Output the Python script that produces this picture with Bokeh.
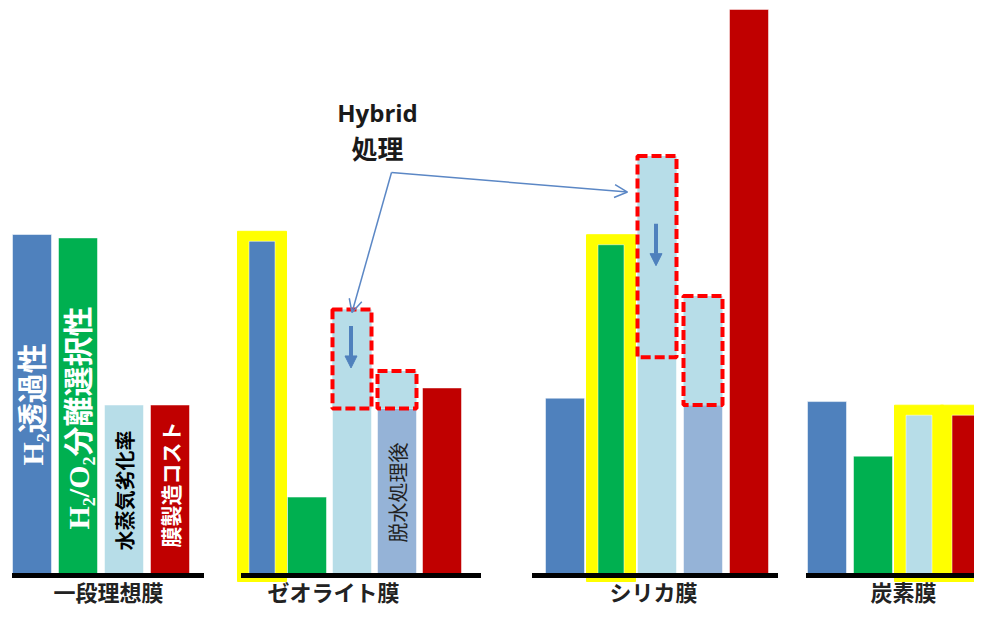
import math
from bokeh.plotting import figure
from bokeh.models import Range1d, Arrow, OpenHead, NormalHead, ColumnDataSource
from bokeh.core.properties import value
from bokeh.embed import file_html
from bokeh.resources import INLINE

# ------------------------------------------------------------------ data
groups = ["一段理想膜", "ゼオライト膜", "シリカ膜", "炭素膜"]
series_keys = ["perm", "sel", "deg", "dehyd", "cost"]
series_names = ["H₂透過性", "H₂/O₂分離選択性", "水蒸気劣化率", "脱水処理後", "膜製造コスト"]
h2_permeability = [100, 98, 52, 51]
h2o2_selectivity = [99, 23, 97, 35]
steam_degradation = [50, 78, 123, 47]
steam_degradation_hybrid = [None, 49, 64, None]
after_dehydration = [None, 49, 50, None]
after_dehydration_box_top = [None, 60, 82, None]
membrane_cost = [50, 55, 166, 47]
highlighted = [("ゼオライト膜", "perm"), ("シリカ膜", "sel"), ("炭素膜", "deg"), ("炭素膜", "cost")]
hybrid_text = ["Hybrid", "処理"]

# ------------------------------------------------------------------ layout / style
PX = 3.41                     # screen pixels per value unit
BASE = 578                    # baseline position (pixels from top)
TOP = 3                       # first visible pixel row
def px(d):
    return d / PX

first_center = [31.5, 261.5, 564.5, 826.5]
pitch = [46, 45, 46, 46]
bar_w, inner_w, halo_w = 39, 26, 49
base_pad_left = [20, 21, 33, 21]
base_pad_right = [34, 39, 29, 26]
label_x = [108, 333, 653, 903]
label_drop = [15, 15, 15, 15]

colors = {"perm": "#4F81BD", "sel": "#00B050", "deg": "#B7DDE8",
          "dehyd": "#95B3D7", "cost": "#C00000"}
vals = {"perm": h2_permeability, "sel": h2o2_selectivity, "deg": steam_degradation,
        "dehyd": after_dehydration, "cost": membrane_cost}

JP = "Noto Sans CJK JP"
SERIF_JP = "'Liberation Serif', 'Noto Sans CJK JP'"

W, H = 974, 605
p = figure(width=W, height=H, x_range=Range1d(0, W),
           y_range=Range1d(-px(H + TOP - BASE), px(BASE - TOP)), output_backend="svg",
           toolbar_location=None, x_axis_type=None, y_axis_type=None,
           min_border=0, outline_line_color=None)
p.grid.visible = False

bars = dict(left=[], right=[], top=[], color=[])
halo = dict(left=[], right=[], top=[], bottom=[])
centers = {}
base = dict(x0=[], x1=[])
for g, name in enumerate(groups):
    present = [k for k in series_keys if vals[k][g] is not None]
    for i, k in enumerate(present):
        xc = first_center[g] + i * pitch[g]
        centers[(g, k)] = xc
        hl = (name, k) in highlighted
        w = inner_w if hl else bar_w
        bars["left"].append(xc - w / 2)
        bars["right"].append(xc + w / 2)
        bars["top"].append(vals[k][g])
        bars["color"].append(colors[k])
        if hl:
            halo["left"].append(xc - halo_w / 2)
            halo["right"].append(xc + halo_w / 2)
            halo["top"].append(vals[k][g] + px(10))
            halo["bottom"].append(-px(6))
    last = first_center[g] + (len(present) - 1) * pitch[g]
    base["x0"].append(first_center[g] - base_pad_left[g])
    base["x1"].append(last + base_pad_right[g])

# yellow highlight
p.quad(left="left", right="right", top="top", bottom="bottom",
       source=ColumnDataSource(halo), fill_color="#FFFF00", line_color="#FFFF00",
       line_width=1)
# bars
p.quad(left="left", right="right", top="top", bottom=0, source=ColumnDataSource(bars),
       fill_color="color", line_color="white", line_width=1, line_alpha=0.5)

# hybrid treatment boxes (dashed)
dbox = dict(left=[], right=[], top=[], bottom=[])
for g in range(len(groups)):
    if steam_degradation_hybrid[g] is not None:
        xc = centers[(g, "deg")]
        dbox["left"].append(xc - bar_w / 2); dbox["right"].append(xc + bar_w / 2)
        dbox["top"].append(steam_degradation[g]); dbox["bottom"].append(steam_degradation_hybrid[g])
    if after_dehydration_box_top[g] is not None:
        xc = centers[(g, "dehyd")]
        dbox["left"].append(xc - bar_w / 2); dbox["right"].append(xc + bar_w / 2)
        dbox["top"].append(after_dehydration_box_top[g]); dbox["bottom"].append(after_dehydration[g])
p.quad(left="left", right="right", top="top", bottom="bottom", source=ColumnDataSource(dbox),
       fill_color=colors["deg"], line_color="#FF0000", line_width=4, line_dash="10 4")

# baselines
p.segment(x0="x0", x1="x1", y0=0, y1=0, source=ColumnDataSource(base),
          line_color="black", line_width=5)

# group labels
p.text(x=label_x, y=[-px(d) for d in label_drop], text=groups, text_font=value(JP),
       text_font_size="22px", text_font_style="bold", text_align="center",
       text_baseline="middle", text_color="#222222")

# vertical texts inside the ideal-membrane bars
inner_keys = ["perm", "sel", "deg", "cost"]
inner_texts = ["H₂透過性", "H₂/O₂分離選択性", "水蒸気劣化率", "膜製造コスト"]
inner_colors = ["white", "white", "black", "white"]
inner_sizes = ["30px", "30px", "20px", "21px"]
inner_fonts = [SERIF_JP, SERIF_JP, JP, JP]
inner_bottom = [110, 46, 25, 28]
for k, t, c, s, f, b in zip(inner_keys, inner_texts, inner_colors, inner_sizes, inner_fonts, inner_bottom):
    p.text(x=[centers[(0, k)]], y=[px(b)], text=[t], angle=math.pi / 2,
           text_font=value(f), text_font_size=s, text_font_style="bold",
           text_color=c, text_align="left", text_baseline="middle")
p.text(x=[centers[(1, "dehyd")]], y=[px(33)], text=["脱水処理後"], angle=math.pi / 2,
       text_font=value(JP), text_font_size="20px", text_color="#222222",
       text_align="left", text_baseline="middle")

# Hybrid label
p.text(x=[377], y=[px(BASE - 115)], text=[hybrid_text[0]], text_font=value("Open Sans"),
       text_font_size="24px", text_font_style="bold", text_align="center",
       text_baseline="middle", text_color="#1a1a1a")
p.text(x=[377], y=[px(BASE - 150)], text=[hybrid_text[1]], text_font=value(JP),
       text_font_size="26px", text_font_style="bold", text_align="center",
       text_baseline="middle", text_color="#1a1a1a")

# pointer arrows from the label
vx, vy = 391, px(BASE - 175)
ac = "#5B87C5"
xt2 = centers[(1, "deg")]
p.add_layout(Arrow(end=OpenHead(size=13, line_color=ac, line_width=1.5),
                   x_start=vx, y_start=vy, x_end=xt2, y_end=steam_degradation[1] - px(3),
                   line_color=ac, line_width=1.5))
xt3 = centers[(2, "deg")] - bar_w / 2 - 10
p.add_layout(Arrow(end=OpenHead(size=13, line_color=ac, line_width=1.5),
                   x_start=vx, y_start=vy, x_end=xt3, y_end=steam_degradation[2] - px(36),
                   line_color=ac, line_width=1.5))

# small down arrows inside dashed boxes
for g in range(len(groups)):
    if steam_degradation_hybrid[g] is not None:
        mid = (steam_degradation[g] + steam_degradation_hybrid[g]) / 2 + px(12)
        xc = centers[(g, "deg")] - 1
        p.add_layout(Arrow(end=NormalHead(size=12, fill_color="#4F81BD", line_color="#4F81BD"),
                           x_start=xc, y_start=mid + px(21), x_end=xc, y_end=mid - px(21),
                           line_color="#4F81BD", line_width=4))

open("out.html", "w").write(file_html(p, INLINE))
